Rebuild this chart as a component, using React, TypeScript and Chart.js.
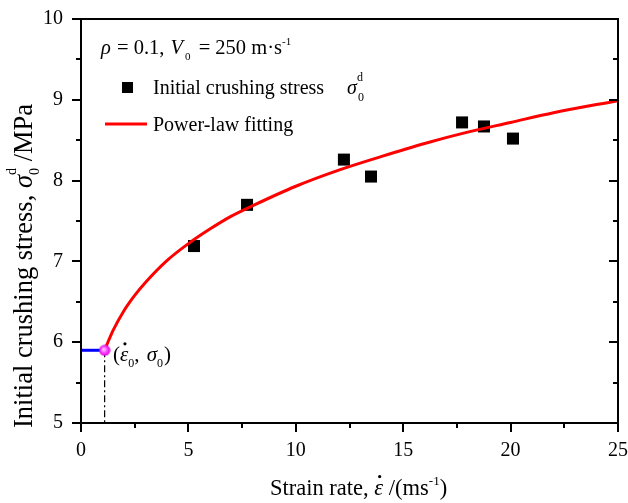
import React, { useEffect, useRef } from "react";
import { Chart, registerables } from "chart.js";

Chart.register(...registerables);

// ---- data ----
const measuredStrainRate = [5.26, 7.73, 12.24, 13.5, 17.74, 18.76, 20.11];
const measuredStress = [7.19, 7.7, 8.26, 8.05, 8.72, 8.67, 8.52];

const fitStrainRate = [1.1, 1.3, 1.5, 2, 2.5, 3, 4, 5, 6, 7, 8, 10, 12, 14, 16, 18, 20, 22, 25];
const fitStress = [5.9, 6.03, 6.15, 6.39, 6.58, 6.74, 7.01, 7.22, 7.4, 7.56, 7.69, 7.93, 8.13, 8.3, 8.46, 8.6, 8.72, 8.84, 8.99];

const criticalStrainRate = [1.1];
const criticalStress = [5.9];

const plateauStrainRate = [0, 1.1];
const plateauStress = [5.9, 5.9];

const dropStrainRate = [1.1, 1.1];
const dropStress = [5.9, 5.0];

const xTickValues = [0, 5, 10, 15, 20, 25];
const yTickValues = [5, 6, 7, 8, 9, 10];
const xMinorValues = [2.5, 7.5, 12.5, 17.5, 22.5];
const yMinorValues = [5.5, 6.5, 7.5, 8.5, 9.5];

const FONT = '"Liberation Serif", "Times New Roman", serif';

type Run = {
  t: string;
  size: number;
  italic?: boolean;
  dy?: number;
  dx?: number;
  noAdvance?: boolean;
  dot?: boolean;
};

function drawRuns(ctx: CanvasRenderingContext2D, x: number, y: number, runs: Run[]) {
  let cx = x;
  for (const r of runs) {
    ctx.font = `${r.italic ? "italic " : ""}${r.size}px ${FONT}`;
    const w = ctx.measureText(r.t).width;
    const px = cx + (r.dx || 0);
    ctx.fillText(r.t, px, y + (r.dy || 0));
    if (r.dot) {
      ctx.beginPath();
      ctx.arc(px + w * 0.6, y + (r.dy || 0) - r.size * 0.82, 1.6, 0, Math.PI * 2);
      ctx.fill();
    }
    if (!r.noAdvance) cx = px + w;
  }
  return cx;
}

const decorPlugin = {
  id: "decor",
  afterDraw(chart: any) {
    const ctx: CanvasRenderingContext2D = chart.ctx;
    const xs = chart.scales.x;
    const ys = chart.scales.y;
    const { left, right, top, bottom } = chart.chartArea;
    ctx.save();
    ctx.strokeStyle = "#000";
    ctx.fillStyle = "#000";
    ctx.lineWidth = 2;
    // frame
    ctx.beginPath();
    ctx.rect(left, top, right - left, bottom - top);
    ctx.stroke();
    // ticks
    ctx.beginPath();
    for (const v of xTickValues) {
      const p = Math.round(xs.getPixelForValue(v));
      ctx.moveTo(p, bottom);
      ctx.lineTo(p, bottom + 9);
    }
    for (const v of xMinorValues) {
      const p = Math.round(xs.getPixelForValue(v));
      ctx.moveTo(p, bottom);
      ctx.lineTo(p, bottom + 5);
    }
    for (const v of yTickValues) {
      const p = Math.round(ys.getPixelForValue(v));
      ctx.moveTo(left, p);
      ctx.lineTo(left - 9, p);
      ctx.moveTo(right, p);
      ctx.lineTo(right - 9, p);
    }
    for (const v of yMinorValues) {
      const p = Math.round(ys.getPixelForValue(v));
      ctx.moveTo(left, p);
      ctx.lineTo(left - 5, p);
      ctx.moveTo(right, p);
      ctx.lineTo(right - 5, p);
    }
    ctx.stroke();

    ctx.textAlign = "left";
    ctx.textBaseline = "alphabetic";

    // x-axis title
    drawRuns(ctx, 270, 495, [
      { t: "Strain rate, ", size: 22.5 },
      { t: "ε", size: 22.5, italic: true, dot: true },
      { t: " /(ms", size: 22.5 },
      { t: "-1", size: 13, dy: -10 },
      { t: ")", size: 22.5 },
    ]);

    // y-axis title (rotated)
    ctx.save();
    ctx.translate(32, 428);
    ctx.rotate(-Math.PI / 2);
    drawRuns(ctx, 0, 0, [
      { t: "Initial crushing stress, ", size: 26.5 },
      { t: "σ", size: 26.5, italic: true },
      { t: "0", size: 14, dy: 7, noAdvance: true },
      { t: "d", size: 14, dy: -16 },
      { t: " /MPa", size: 26.5 },
    ]);
    ctx.restore();

    // legend block
    drawRuns(ctx, 101, 54, [
      { t: "ρ", size: 20.5, italic: true },
      { t: " = 0.1, ", size: 20.5, dx: 1 },
      { t: "V", size: 20.5, italic: true, dx: 1 },
      { t: "0", size: 11, dy: 6, dx: 2 },
      { t: " = 250 m·s", size: 20.5, dx: 3 },
      { t: "-1", size: 11, dy: -9 },
    ]);
    ctx.fillRect(122, 82, 11, 11);
    drawRuns(ctx, 153, 94, [
      { t: "Initial crushing stress", size: 20 },
      { t: "σ", size: 20, italic: true, dx: 23 },
      { t: "0", size: 12, dy: 7, noAdvance: true, dx: 1 },
      { t: "d", size: 12, dy: -13 },
    ]);
    ctx.strokeStyle = "#ff0000";
    ctx.lineWidth = 3;
    ctx.beginPath();
    ctx.moveTo(105, 124);
    ctx.lineTo(147, 124);
    ctx.stroke();
    ctx.fillStyle = "#000";
    drawRuns(ctx, 153, 131, [{ t: "Power-law fitting", size: 20 }]);

    // annotation of the critical point
    drawRuns(ctx, 113, 361, [
      { t: "(", size: 21 },
      { t: "ε", size: 21, italic: true, dot: true },
      { t: "0", size: 12, dy: 6 },
      { t: ", ", size: 21 },
      { t: "σ", size: 21, italic: true, dx: 2 },
      { t: "0", size: 12, dy: 6 },
      { t: ")", size: 21, dx: 1 },
    ]);
    ctx.restore();
  },
};

function makeBall(): HTMLCanvasElement {
  const c = document.createElement("canvas");
  c.width = 12;
  c.height = 12;
  const g = c.getContext("2d")!;
  const grad = g.createRadialGradient(5, 5, 0.5, 6, 6, 6);
  grad.addColorStop(0, "#ffc8ff");
  grad.addColorStop(0.5, "#ff3cff");
  grad.addColorStop(1, "#d000d0");
  g.fillStyle = grad;
  g.beginPath();
  g.arc(6, 6, 5.6, 0, Math.PI * 2);
  g.fill();
  return c;
}

export default function App() {
  const ref = useRef<HTMLCanvasElement>(null);
  useEffect(() => {
    const canvas = ref.current!;
    const toPts = (xs: number[], ys: number[]) => xs.map((x, i) => ({ x, y: ys[i] }));
    const tickFont = { family: FONT, size: 20 };
    const chart = new Chart(canvas, {
      type: "scatter",
      data: {
        datasets: [
          {
            label: "critical",
            data: toPts(criticalStrainRate, criticalStress),
            pointStyle: makeBall() as any,
            pointRadius: 6,
            showLine: false,
          },
          {
            label: "Power-law fitting",
            data: toPts(fitStrainRate, fitStress),
            showLine: true,
            borderColor: "#ff0000",
            borderWidth: 3,
            pointRadius: 0,
            cubicInterpolationMode: "monotone",
            fill: false,
          },
          {
            label: "plateau",
            data: toPts(plateauStrainRate, plateauStress),
            showLine: true,
            borderColor: "#0000ff",
            borderWidth: 3,
            pointRadius: 0,
          },
          {
            label: "drop",
            data: toPts(dropStrainRate, dropStress),
            showLine: true,
            borderColor: "#000000",
            borderWidth: 1.2,
            borderDash: [7, 3, 2, 3],
            pointRadius: 0,
          },
          {
            label: "Initial crushing stress",
            data: toPts(measuredStrainRate, measuredStress),
            showLine: false,
            pointStyle: "rect",
            pointRadius: 8.5,
            backgroundColor: "#000",
            borderColor: "#000",
            borderWidth: 0,
          },
        ],
      },
      options: {
        animation: false,
        responsive: true,
        maintainAspectRatio: false,
        layout: { padding: { top: 19, right: 10, left: 0, bottom: 0 } },
        plugins: { legend: { display: false }, tooltip: { enabled: false } },
        scales: {
          x: {
            type: "linear",
            min: 0,
            max: 25,
            grid: { display: false, drawTicks: false },
            border: { display: false },
            ticks: { stepSize: 5, padding: 16, color: "#000", font: tickFont },
            afterFit: (s: any) => {
              s.height = 80;
              s.paddingLeft = 0;
              s.paddingRight = 0;
            },
          },
          y: {
            type: "linear",
            min: 5,
            max: 10,
            grid: { display: false, drawTicks: false },
            border: { display: false },
            ticks: { stepSize: 1, padding: 18, color: "#000", font: tickFont },
            afterFit: (s: any) => {
              s.width = 81;
              s.paddingTop = 0;
              s.paddingBottom = 0;
            },
          },
        },
      } as any,
      plugins: [decorPlugin],
    });
    return () => chart.destroy();
  }, []);
  return (
    <div style={{ position: "absolute", left: 0, top: 0, width: 628, height: 503, background: "#fff" }}>
      <canvas ref={ref} style={{ display: "block" }} />
    </div>
  );
}
